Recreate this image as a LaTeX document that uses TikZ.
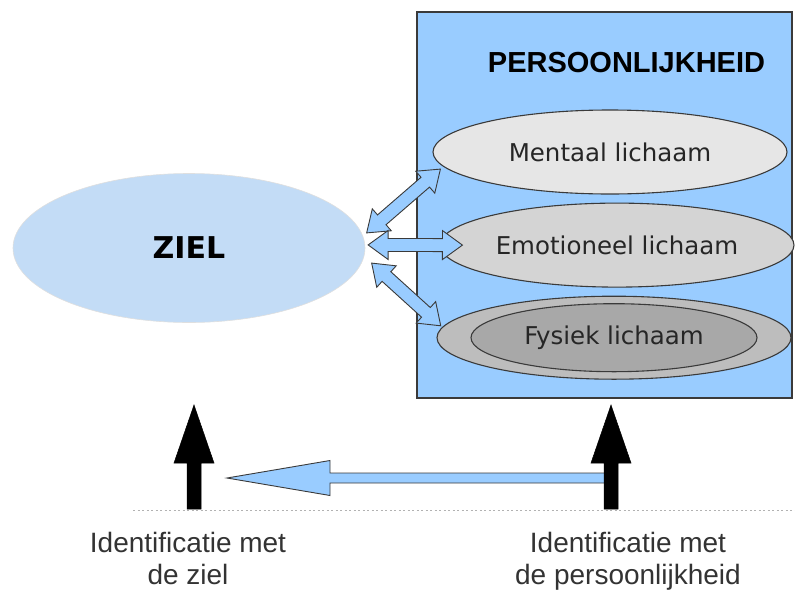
\documentclass[tikz,border=0pt]{standalone}
\usepackage{fontspec}
\setmainfont{Liberation Sans}
\newfontfamily\verdanafont{DejaVu Sans}
\usepackage{tikz}
\usetikzlibrary{positioning,calc,shapes.geometric}

\definecolor{kaderblauw}{HTML}{99CCFF}
\definecolor{zielblauw}{HTML}{C3DCF6}
\definecolor{lijngrijs}{HTML}{3A3A3A}
\definecolor{mentaalgrijs}{HTML}{E6E6E6}
\definecolor{emotiegrijs}{HTML}{D4D4D4}
\definecolor{fysiekgrijs}{HTML}{BDBDBD}
\definecolor{kerngrijs}{HTML}{A8A8A8}

% double block arrow between two points
\newcommand{\dubbelpijl}[2]{%
  \filldraw[blokpijl]
    (#1) -- ($(#1)!20pt!(#2)!14.5pt!90:(#2)$) -- ($(#1)!20pt!(#2)!6.5pt!90:(#2)$)
    -- ($(#2)!20pt!(#1)!6.5pt!-90:(#1)$) -- ($(#2)!20pt!(#1)!14.5pt!-90:(#1)$)
    -- (#2) -- ($(#2)!20pt!(#1)!14.5pt!90:(#1)$) -- ($(#2)!20pt!(#1)!6.5pt!90:(#1)$)
    -- ($(#1)!20pt!(#2)!6.5pt!-90:(#2)$) -- ($(#1)!20pt!(#2)!14.5pt!-90:(#2)$) -- cycle;}
% single block arrow: style, tail, tip, head length, head half width, shaft half width
\newcommand{\enkelpijl}[6]{%
  \filldraw[#1]
    ($(#2)!#6!90:(#3)$) -- ($(#3)!#4!(#2)!#6!-90:(#2)$) -- ($(#3)!#4!(#2)!#5!-90:(#2)$)
    -- (#3) -- ($(#3)!#4!(#2)!#5!90:(#2)$) -- ($(#3)!#4!(#2)!#6!90:(#2)$)
    -- ($(#2)!#6!-90:(#3)$) -- cycle;}

\begin{document}
\begin{tikzpicture}[
  x=1pt, y=-1pt,
  kader/.style={draw=lijngrijs, fill=kaderblauw, line width=1.2pt, minimum width=375pt, minimum height=386pt, inner sep=0pt},
  lichaam/.style={ellipse, draw=lijngrijs, line width=1.1pt, minimum width=354pt, minimum height=84pt, inner sep=0pt, font=\verdanafont\fontsize{24.5}{28}\selectfont, text=black!85},
  ziel/.style={ellipse, fill=zielblauw, draw=gray!25, line width=0.6pt, minimum width=352pt, minimum height=149pt, inner sep=0pt, font=\verdanafont\bfseries\fontsize{30}{34}\selectfont},
  onderschrift/.style={align=center, anchor=north, inner sep=0pt, font=\fontsize{28}{32}\selectfont, text=black!80},
  blokpijl/.style={draw=lijngrijs, fill=kaderblauw, line width=0.9pt, line join=miter},
  zwartepijl/.style={fill=black, draw=black, line width=0.5pt}
]
\useasboundingbox (0,0) rectangle (795,592);

\node[kader] (kader) at (604.5,205) {};
\node[anchor=base, font=\bfseries\fontsize{29}{33}\selectfont] (titel) at (626.5,72) {PERSOONLIJKHEID};

\node[lichaam, fill=mentaalgrijs] (mentaal) at (610,152) {Mentaal lichaam};
\node[lichaam, fill=emotiegrijs, below=8pt of mentaal, xshift=7pt] (emotioneel) {Emotioneel lichaam};
\node[lichaam, fill=fysiekgrijs, minimum height=83pt, below=8pt of emotioneel, xshift=-3pt] (fysiek) {};
\node[lichaam, fill=kerngrijs, minimum width=286pt, minimum height=68pt] (kern) at (fysiek.center) {Fysiek lichaam};

\node[ziel] (zielnode) at (189,248) {ZIEL};

% arrow ends next to the ellipses
\coordinate (zm) at ([xshift=5pt]zielnode.5);
\coordinate (mz) at ([xshift=-7pt]mentaal.186);
\coordinate (ze) at ([xshift=3pt]zielnode.1);
\coordinate (ez) at ([xshift=23pt]emotioneel.west);
\coordinate (zf) at ([xshift=10pt]zielnode.-5);
\coordinate (fz) at ([xshift=-3pt]fysiek.176);

\dubbelpijl{zm}{mz}
\dubbelpijl{ze}{ez}
\dubbelpijl{zf}{fz}

% identification
\coordinate (grondlinks) at (133,510);
\coordinate (grondrechts) at (795,510);
\coordinate (zielvoet) at (194,509);
\coordinate (zieltop) at (194,405);
\coordinate (persvoet) at (611,509);
\coordinate (perstop) at (611,405);
\coordinate (wisselstart) at (611,478);
\coordinate (wisseleind) at (227,478);

\draw[gray!60, line width=1pt, dash pattern=on 2pt off 2.5pt] (grondlinks) -- (grondrechts);
\enkelpijl{blokpijl}{wisselstart}{wisseleind}{103pt}{17.5pt}{5pt}
\enkelpijl{zwartepijl}{zielvoet}{zieltop}{58pt}{20pt}{7pt}
\enkelpijl{zwartepijl}{persvoet}{perstop}{58pt}{20pt}{7pt}

\node[onderschrift] (zieltekst) at (188,532) {Identificatie met\\de ziel};
\node[onderschrift] (perstekst) at (628,532) {Identificatie met\\de persoonlijkheid};
\end{tikzpicture}
\end{document}
